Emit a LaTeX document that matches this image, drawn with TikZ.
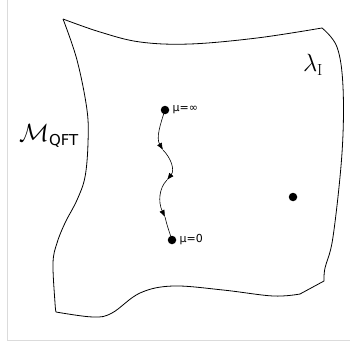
\documentclass[tikz,border=0pt]{standalone}
\usepackage{fontspec}
\setsansfont{DejaVu Sans}
\usetikzlibrary{positioning,arrows.meta}
\tikzset{
  dot/.style={circle, fill=black, inner sep=0pt, minimum size=8.5pt},
  rglabel/.style={font=\sffamily\fontsize{11}{12}\selectfont, inner sep=1pt},
  flow/.style={line width=0.6pt, -{Latex[length=7pt,width=5.5pt]}},
  sheet/.style={line width=0.8pt, line join=round}
}
\begin{document}
\begin{tikzpicture}[x=1pt,y=-1pt]
    \useasboundingbox (0,0) rectangle (349,350);
    % Frame
    \draw[black!14, line width=0.8pt] (7,-2) -- (7,340) -- (351,340);
    % Theory space
    \draw[sheet] plot[smooth, tension=0.6] coordinates {(63,19) (100,32) (140,42) (190,44) (257,38) (322,28)};
    \draw[sheet] plot[smooth, tension=0.6] coordinates {(322,28) (337,47) (343,87) (342,153) (333,237) (325,268) (324,281)} -- (300,294);
    \draw[sheet] plot[smooth, tension=0.6] coordinates {(300,294) (273,296) (223,290) (173,286) (140,293) (112,313) (93,317) (56,312)};
    \draw[sheet] plot[smooth, tension=0.6] coordinates {(56,312) (55,303) (53,263) (57,243) (65,223) (77,200) (85,177) (88,143) (87,110) (77,60) (63,19)};
    % Labels of the space
    \node[font=\fontsize{25}{27}\selectfont] (space) at (49,136) {$\mathcal{M}_{\mbox{\sffamily\fontsize{15}{16}\selectfont QFT}}$};
    \node[font=\fontsize{23}{25}\selectfont] (coup) at (313,65) {$\lambda_{\mathrm{I}}$};
    % Points
    \node[dot] (uv) at (165,110) {};
    \node[dot] (ir) at (172,240) {};
    \node[dot] (fp) at (293,197) {};
    \node[rglabel, right=2pt of uv] (uvlabel) {μ=∞};
    \node[rglabel, right=2pt of ir] (irlabel) {μ=0};
    % RG flow
    \coordinate (a1) at (163,150);
    \coordinate (a2) at (167,180);
    \coordinate (a3) at (165,217);
    \draw[flow] (uv.center) .. controls (160,125) and (156,138) .. (a1);
    \draw[flow] (a1) .. controls (171,158) and (175,170) .. (a2);
    \draw[flow] (a2) .. controls (159,188) and (158,202) .. (a3);
    \draw[line width=0.6pt] (a3) .. controls (167,225) .. (ir.center);
\end{tikzpicture}
\end{document}
